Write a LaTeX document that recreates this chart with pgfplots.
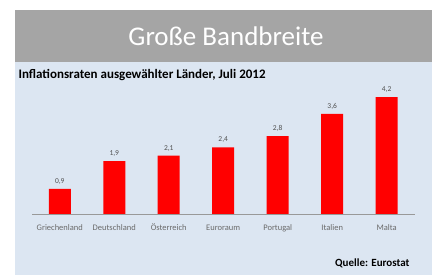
\documentclass[border=0pt]{standalone}
\usepackage{fontspec}
\setmainfont{Carlito}
\usepackage{pgfplots}
\pgfplotsset{compat=1.18}
\definecolor{barred}{HTML}{FF0000}
\definecolor{panelblue}{HTML}{DCE6F2}
\definecolor{titlegray}{HTML}{A5A5A5}
\definecolor{txtgray}{HTML}{6A6A6A}
\definecolor{valgray}{HTML}{505050}
\begin{document}
\begin{tikzpicture}[x=1pt,y=1pt]
\fill[white] (0,0) rectangle (435,275);
\fill[titlegray] (15,213) rectangle (432,265);
\fill[panelblue] (15,0) rectangle (432,213);
\node[white,font=\fontsize{27}{30}\selectfont] at (226,239) {Große Bandbreite};
\node[anchor=west,font=\bfseries\fontsize{13}{15}\selectfont] at (15,200) {Inflationsraten ausgewählter Länder, Juli 2012};
\node[anchor=east,font=\bfseries\fontsize{11}{13}\selectfont] at (413,12) {Quelle: Eurostat};
\begin{axis}[
  at={(32pt,61pt)}, anchor=south west,
  scale only axis,
  width=383pt, height=125.1pt,
  xmin=-0.51, xmax=6.52,
  ymin=0, ymax=4.5,
  ybar, bar width=22pt,
  axis x line=bottom, axis y line=none,
  axis line style={draw=gray!80, -},
  x axis line style={-},
  xtick=data,
  xticklabels={Griechenland,Deutschland,Österreich,Euroraum,Portugal,Italien,Malta},
  ticklabel style={font=\fontsize{8.5}{9}\selectfont, text=txtgray},
  xtick style={draw=none},
  major tick length=0pt,
  xticklabel style={yshift=-5pt, text height=1.6ex, text depth=0.3ex},
  point meta=explicit symbolic,
  nodes near coords,
  nodes near coords style={font=\fontsize{7.5}{8}\selectfont, text=valgray, yshift=1pt},
]
\addplot[fill=barred, draw=none] coordinates {
(0,0.9) [0,9]
(1,1.9) [1,9]
(2,2.1) [2,1]
(3,2.4) [2,4]
(4,2.8) [2,8]
(5,3.6) [3,6]
(6,4.2) [4,2]
};
\end{axis}
\end{tikzpicture}
\end{document}
